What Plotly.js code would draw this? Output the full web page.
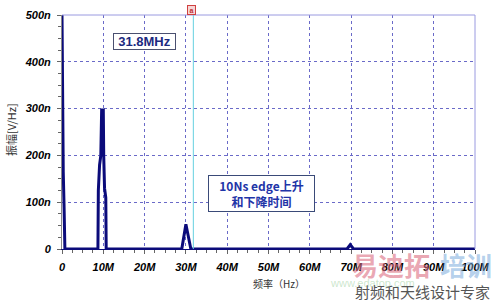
<!DOCTYPE html>
<html>
<head>
<meta charset="utf-8">
<script src="https://cdn.plot.ly/plotly-3.0.1.min.js"></script>
<style>html,body{margin:0;padding:0;background:#fff;}#chart{width:500px;height:302px;}</style>
</head>
<body>
<div id="chart"></div>
<script>
// Frequency in MHz, amplitude in nV/Hz
const freqMHz = [0, 0.1, 0.3, 0.5, 0.7, 8.7, 8.8, 9.1, 9.4, 9.6, 10.0, 10.1, 10.3, 10.6, 10.7, 29.0, 30.0, 31.2, 69.0, 69.8, 70.6, 100];
const ampN    = [500, 250, 165, 90, 0, 0, 125, 180, 200, 297, 297, 200, 130, 110, 0, 0, 53, 0, 0, 9, 0, 0];
const xTickVals = [0, 10, 20, 30, 40, 50, 60, 70, 80, 90, 100];
const xTickText = ['0', '10M', '20M', '30M', '40M', '50M', '60M', '70M', '80M', '90M', '100M'];
const yTickVals = [0, 100, 200, 300, 400, 500];
const yTickText = ['0', '100n', '200n', '300n', '400n', '500n'];
const markerFreq = 31.8;
const markerLabel = '31.8MHz';
const noteText = '10Ns edge上升<br>和下降时间';
const xTitle = '频率（Hz）';
const yTitle = '振幅[V/Hz]';

const tickFont = {family: 'Liberation Sans', size: 11, color: '#000', weight: 700, style: 'italic'};
const gridColor = '#6a6ac8';

const trace = {
  x: freqMHz, y: ampN, type: 'scatter', mode: 'lines',
  line: {color: '#0b0b7a', width: 3}, hoverinfo: 'skip'
};

function px(x) { return (x - 62) / 413; }
function py(y) { return (249 - y) / 234; }

const layout = {
  width: 500, height: 302,
  margin: {l: 62, r: 25, t: 15, b: 53},
  paper_bgcolor: '#fff', plot_bgcolor: '#fff',
  showlegend: false,
  xaxis: {
    range: [0, 100], tickvals: xTickVals, ticktext: xTickText,
    tickfont: tickFont, ticks: 'outside', ticklen: 4, tickcolor: '#666',
    ticklabelstandoff: 4,
    showgrid: true, gridcolor: gridColor, griddash: 'dot', gridwidth: 1,
    zeroline: false, showline: true, linecolor: '#0b0b7a', linewidth: 1,
    minor: {dtick: 2.5, ticks: 'outside', ticklen: 3, tickcolor: '#666', showgrid: false}
  },
  yaxis: {
    range: [0, 500], tickvals: yTickVals, ticktext: yTickText,
    tickfont: tickFont, ticks: 'outside', ticklen: 4, tickcolor: '#666',
    ticklabelstandoff: 4,
    showgrid: true, gridcolor: gridColor, griddash: 'dot', gridwidth: 1,
    zeroline: false, showline: true, linecolor: '#888', linewidth: 1,
    minor: {dtick: 25, ticks: 'outside', ticklen: 3, tickcolor: '#666', showgrid: false}
  },
  shapes: [
    {type: 'line', xref: 'paper', yref: 'paper', x0: 0, x1: 1, y0: 1, y1: 1, line: {color: '#9a9ae0', width: 1}},
    {type: 'line', xref: 'paper', yref: 'paper', x0: 1, x1: 1, y0: 0, y1: 1, line: {color: '#9a9ae0', width: 1}},
    {type: 'line', xref: 'x', yref: 'paper', x0: markerFreq, x1: markerFreq, y0: 0, y1: 1, line: {color: '#66d0e0', width: 1}}
  ],
  annotations: [
    {xref: 'paper', yref: 'paper', x: px(191), y: py(10), xanchor: 'center', yanchor: 'middle', text: 'a', showarrow: false,
     font: {family: 'Arial', size: 7, color: '#c03030', weight: 'bold'},
     bgcolor: '#f6d6d6', bordercolor: '#d04040', borderwidth: 1, width: 7, height: 8, borderpad: 0},
    {xref: 'x', yref: 'y', x: 19.95, y: 444, xanchor: 'center', yanchor: 'middle', text: markerLabel, showarrow: false,
     font: {family: 'Liberation Sans', size: 13, color: '#1c2a80', weight: 700},
     bgcolor: '#fff', bordercolor: '#4a5070', borderwidth: 1, width: 61, height: 15, borderpad: 0},
    {xref: 'x', yref: 'y', x: 48.3, y: 119, xanchor: 'center', yanchor: 'middle', text: noteText, showarrow: false,
     font: {family: 'Noto Sans CJK SC', size: 12, color: '#1f35a8', weight: 700},
     bgcolor: '#fff', bordercolor: '#3a4a78', borderwidth: 1, width: 105, height: 35, borderpad: 0},
    {xref: 'paper', yref: 'paper', x: px(11), y: py(130), xanchor: 'center', yanchor: 'middle', text: yTitle, showarrow: false,
     textangle: -90, font: {family: 'Noto Sans CJK SC', size: 11, color: '#333'}},
    {xref: 'paper', yref: 'paper', x: px(279), y: py(283), xanchor: 'center', yanchor: 'middle', text: xTitle, showarrow: false,
     font: {family: 'Noto Sans CJK SC', size: 10, color: '#333'}},
    {xref: 'paper', yref: 'paper', x: px(391), y: py(264), xanchor: 'center', yanchor: 'middle', text: '易迪拓', showarrow: false,
     font: {family: 'Noto Sans CJK SC', size: 26, color: 'rgba(220,110,130,0.6)', weight: 'bold'}},
    {xref: 'paper', yref: 'paper', x: px(466), y: py(264), xanchor: 'center', yanchor: 'middle', text: '培训', showarrow: false,
     font: {family: 'Noto Sans CJK SC', size: 26, color: 'rgba(120,170,220,0.55)', weight: 'bold'}},
    {xref: 'paper', yref: 'paper', x: px(372), y: py(283), xanchor: 'center', yanchor: 'middle', text: 'www.edatop.com', showarrow: false,
     font: {family: 'Arial', size: 11, color: 'rgba(140,200,140,0.45)'}},
    {xref: 'paper', yref: 'paper', x: px(422), y: py(291), xanchor: 'center', yanchor: 'middle', text: '射频和天线设计专家', showarrow: false,
     font: {family: 'Noto Sans CJK SC', size: 15, color: '#555'}}
  ]
};

Plotly.newPlot('chart', [trace], layout, {displayModeBar: false, staticPlot: true});
</script>
</body>
</html>
